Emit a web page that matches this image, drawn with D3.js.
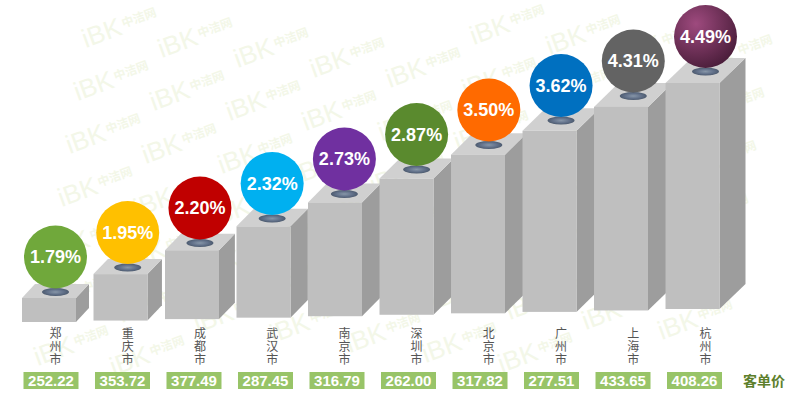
<!DOCTYPE html>
<meta charset="utf-8">
<style>
    body {
        margin: 0;
        padding: 0;
        background: #fff;
    }
    .city text {
        font-family: "Noto Sans CJK SC", sans-serif;
        font-size: 12px;
        fill: #555;
        writing-mode: vertical-rl;
        letter-spacing: 1px;
    }
    .ball text, .price text {
        font-family: "Liberation Sans", Arial, sans-serif;
        font-weight: bold;
        fill: #fff;
    }
    .watermark text {
        fill: #f3f7e8;
    }
</style>
<body>
<script src="https://d3js.org/d3.v7.min.js"></script>
<script>
    // data
    var cities = ["郑州市", "重庆市", "成都市", "武汉市", "南京市", "深圳市", "北京市", "广州市", "上海市", "杭州市"];
    var growth = [1.79, 1.95, 2.20, 2.32, 2.73, 2.87, 3.50, 3.62, 4.31, 4.49];
    var price = [252.22, 353.72, 377.49, 287.45, 316.79, 262.00, 317.82, 277.51, 433.65, 408.26];
    var ballColors = ["#70a83b", "#ffc000", "#c00000", "#00b0f0", "#7030a0", "#5a8a2e", "#ff6a00", "#0070c0", "#636363", "url(#grad-plum)"];

    var width = 786, height = 396;
    var n = cities.length;

    var svg = d3.select("body")
        .append("svg")
        .attr("width", width)
        .attr("height", height);

    var defs = svg.append("defs");
    var plum = defs.append("radialGradient").attr("id", "grad-plum")
        .attr("cx", "35%").attr("cy", "30%").attr("r", "75%");
    plum.append("stop").attr("offset", "0%").attr("stop-color", "#9e4a7e");
    plum.append("stop").attr("offset", "100%").attr("stop-color", "#4a1d3a");
    var hole = defs.append("radialGradient").attr("id", "grad-hole");
    hole.append("stop").attr("offset", "0%").attr("stop-color", "#8796a8");
    hole.append("stop").attr("offset", "60%").attr("stop-color", "#62718a");
    hole.append("stop").attr("offset", "100%").attr("stop-color", "#4d5b6f");

    // faint site watermark tiled behind the chart
    var marks = [];
    for (var i = -3; i < 12; i++) {
        for (var j = -2; j < 9; j++) {
            var mx = 120 + 76 * i - 8 * j, my = 27 + 10 * i + 53 * j;
            if (mx > 40 && mx < 745 && my > 18 && my < 360) marks.push([mx, my]);
        }
    }
    var wm = svg.append("g").attr("class", "watermark")
        .selectAll("g")
        .data(marks)
        .enter().append("g")
        .attr("transform", function(d) { return "translate(" + d[0] + "," + d[1] + ") rotate(-20)"; });
    wm.append("text")
        .attr("text-anchor", "end")
        .attr("x", 1).attr("y", 8)
        .attr("font-family", "Liberation Sans, Arial, sans-serif")
        .attr("font-size", 26)
        .text("iBK");
    wm.append("text")
        .attr("x", 3).attr("y", 2)
        .attr("font-family", "Noto Sans CJK SC, sans-serif")
        .attr("font-weight", "bold")
        .attr("font-size", 12)
        .text("中洁网");

    // scales
    var x = d3.scaleBand()
        .domain(cities)
        .range([22, 719.5])
        .paddingInner(0.245)
        .paddingOuter(0);

    // bars are a staircase ordered by growth rate
    var order = d3.sort(d3.range(n), function(i) { return growth[i]; });
    var rankOf = [];
    order.forEach(function(i, k) { rankOf[i] = k; });
    var h = d3.scaleLinear().domain([0, n - 1]).range([24, 226]);

    var base = d3.scaleLinear().domain([0, n - 1]).range([322, 309]);
    var depthX = d3.scaleLinear().domain([0, n - 1]).range([13, 26]);
    var depthY = d3.scaleLinear().domain([0, n - 1]).range([14, 25]);

    var bars = cities.map(function(city, i) {
        var x0 = x(city), w = x.bandwidth();
        var b = base(i), top = b - h(rankOf[i]);
        var dx = depthX(i), dy = depthY(i);
        return {city: city, i: i, x0: x0, w: w, base: b, top: top, dx: dx, dy: dy,
            cx: x0 + w / 2 + dx / 2, cy: top - dy / 2};
    });

    var boxes = svg.append("g").attr("class", "boxes")
        .selectAll("g")
        .data(bars)
        .enter().append("g");

    boxes.append("path")
        .attr("d", function(d) {
            return "M" + (d.x0 + d.w) + "," + d.top +
                "L" + (d.x0 + d.w + d.dx) + "," + (d.top - d.dy) +
                "L" + (d.x0 + d.w + d.dx) + "," + (d.base - d.dy) +
                "L" + (d.x0 + d.w) + "," + d.base + "Z";
        })
        .style("fill", "#9d9d9d");

    boxes.append("path")
        .attr("d", function(d) {
            return "M" + d.x0 + "," + d.top +
                "L" + (d.x0 + d.w) + "," + d.top +
                "L" + (d.x0 + d.w + d.dx) + "," + (d.top - d.dy) +
                "L" + (d.x0 + d.dx) + "," + (d.top - d.dy) + "Z";
        })
        .style("fill", "#d0d0d0");

    boxes.append("rect")
        .attr("x", function(d) { return d.x0; })
        .attr("y", function(d) { return d.top; })
        .attr("width", function(d) { return d.w; })
        .attr("height", function(d) { return d.base - d.top; })
        .style("fill", "#bfbfbf");

    boxes.append("ellipse")
        .attr("cx", function(d) { return d.cx; })
        .attr("cy", function(d) { return d.cy + 1; })
        .attr("rx", 13.5)
        .attr("ry", 4)
        .style("fill", "url(#grad-hole)");

    // balls with growth rate
    var balls = svg.append("g").attr("class", "ball")
        .selectAll("g")
        .data(bars)
        .enter().append("g")
        .attr("transform", function(d) { return "translate(" + d.cx + "," + (d.cy - 34) + ")"; });

    balls.append("circle")
        .attr("r", 31.5)
        .style("fill", function(d) { return ballColors[d.i]; });

    balls.append("text")
        .attr("text-anchor", "middle")
        .attr("dy", "0.36em")
        .attr("font-size", 18)
        .text(function(d) { return growth[d.i].toFixed(2) + "%"; });

    // vertical city names
    svg.append("g").attr("class", "city")
        .selectAll("text")
        .data(bars)
        .enter().append("text")
        .attr("x", function(d) { return d.cx; })
        .attr("y", 327)
        .text(function(d) { return d.city; });

    // price tags
    var tags = svg.append("g").attr("class", "price")
        .selectAll("g")
        .data(bars)
        .enter().append("g")
        .attr("transform", function(d) { return "translate(" + (d.x0 + d.w / 2 + 2) + ",380.5)"; });

    tags.append("rect")
        .attr("x", -27.5).attr("y", -8.5)
        .attr("width", 55).attr("height", 17)
        .style("fill", "#98c468");

    tags.append("text")
        .attr("text-anchor", "middle")
        .attr("dy", "0.36em")
        .attr("font-size", 15)
        .text(function(d) { return price[d.i].toFixed(2); });

    svg.append("text")
        .attr("x", 743)
        .attr("y", 386)
        .attr("font-family", "Noto Sans CJK SC, sans-serif")
        .attr("font-weight", "bold")
        .attr("font-size", 14)
        .attr("fill", "#5d7f2c")
        .text("客单价");
</script>
</body>
</html>
